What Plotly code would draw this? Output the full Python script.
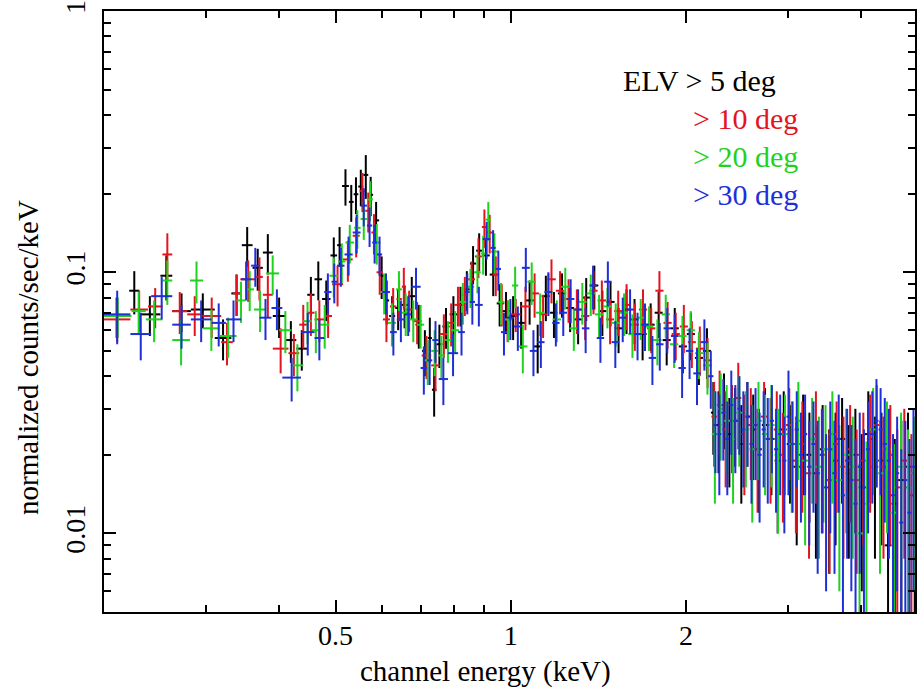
import numpy as np
import plotly.graph_objects as go

# ---------------- data (keV bin edges, normalized counts/sec/keV, 1-sigma errors) -------------
black_edges = [0.200, 0.221, 0.230, 0.250, 0.262, 0.282, 0.310, 0.331, 0.345, 0.360, 0.375, 0.390,
               0.410, 0.428, 0.447, 0.460, 0.474, 0.490, 0.503, 0.513, 0.527, 0.537, 0.547, 0.558,
               0.569, 0.580, 0.594, 0.606, 0.618, 0.633, 0.648, 0.666, 0.686, 0.704, 0.720, 0.732,
               0.745, 0.763, 0.785, 0.809, 0.830, 0.851, 0.872, 0.893, 0.920, 0.946, 0.968, 0.995,
               1.024, 1.060, 1.095, 1.130, 1.168, 1.205, 1.245, 1.285, 1.326, 1.370, 1.414, 1.460,
               1.508, 1.556, 1.606, 1.658, 1.712, 1.767, 1.824, 1.883, 1.944, 2.007, 2.072, 2.139,
               2.208, 2.25, 2.30, 2.35, 2.40, 2.46, 2.52, 2.58, 2.64, 2.70, 2.77, 2.84, 2.91, 2.98,
               3.06, 3.14, 3.22, 3.30, 3.39, 3.48, 3.57, 3.66, 3.76, 3.86, 3.96, 4.06, 4.17, 4.28,
               4.39, 4.51, 4.63, 4.75, 4.88, 5.01]
black_rate = [0.068, 0.085, 0.069, 0.097, 0.071, 0.072, 0.056, 0.083, 0.127, 0.104, 0.119, 0.068,
              0.055, 0.051, 0.082, 0.094, 0.079, 0.116, 0.127, 0.214, 0.186, 0.199, 0.213, 0.236,
              0.198, 0.158, 0.097, 0.078, 0.068, 0.073, 0.075, 0.081, 0.063, 0.050, 0.056, 0.0355,
              0.053, 0.062, 0.069, 0.075, 0.086, 0.108, 0.121, 0.116, 0.098, 0.076, 0.071, 0.068,
              0.064, 0.078, 0.052, 0.081, 0.070, 0.083, 0.073, 0.066, 0.080, 0.089, 0.071, 0.077,
              0.061, 0.072, 0.066, 0.058, 0.063, 0.070, 0.055, 0.061, 0.052, 0.058, 0.047, 0.050,
              0.029, 0.026, 0.031, 0.024, 0.027, 0.022, 0.028, 0.025, 0.021, 0.026, 0.023, 0.019,
              0.025, 0.022, 0.018, 0.024, 0.020, 0.017, 0.021, 0.016, 0.019, 0.023, 0.017, 0.020,
              0.015, 0.024, 0.018, 0.019, 0.009, 0.013, 0.016, 0.018, 0.014]
black_err = [0.012, 0.016, 0.012, 0.019, 0.012, 0.011, 0.010, 0.015, 0.022, 0.019, 0.021, 0.012,
             0.010, 0.009, 0.014, 0.016, 0.014, 0.020, 0.022, 0.034, 0.030, 0.032, 0.034, 0.045,
             0.034, 0.028, 0.018, 0.015, 0.013, 0.013, 0.014, 0.015, 0.012, 0.010, 0.011, 0.0075,
             0.010, 0.011, 0.012, 0.013, 0.015, 0.018, 0.020, 0.019, 0.017, 0.014, 0.013, 0.013,
             0.013, 0.015, 0.011, 0.016, 0.014, 0.016, 0.014, 0.013, 0.015, 0.017, 0.014, 0.015,
             0.012, 0.014, 0.013, 0.012, 0.013, 0.014, 0.011, 0.012, 0.011, 0.012, 0.010, 0.011,
             0.009, 0.009, 0.010, 0.009, 0.009, 0.009, 0.010, 0.009, 0.009, 0.010, 0.009, 0.009,
             0.010, 0.009, 0.009, 0.010, 0.009, 0.009, 0.010, 0.009, 0.010, 0.010, 0.009, 0.010,
             0.009, 0.011, 0.010, 0.010, 0.0085, 0.010, 0.011, 0.011, 0.011]

red_edges = [0.200, 0.222, 0.238, 0.252, 0.262, 0.278, 0.295, 0.318, 0.333, 0.343, 0.365, 0.375,
             0.390, 0.415, 0.433, 0.447, 0.460, 0.478, 0.493, 0.515, 0.535, 0.550, 0.562, 0.576,
             0.588, 0.603, 0.620, 0.636, 0.650, 0.660, 0.678, 0.703, 0.730, 0.755, 0.780, 0.800,
             0.823, 0.845, 0.868, 0.892, 0.910, 0.930, 0.955, 0.975, 1.000, 1.040,
             1.080, 1.118, 1.155, 1.195, 1.236, 1.278, 1.320, 1.365, 1.410, 1.458, 1.505, 1.555,
             1.608, 1.660, 1.715, 1.772, 1.830, 1.890, 1.952, 2.015, 2.080, 2.146, 2.212,
             2.26, 2.31, 2.37, 2.43, 2.49, 2.55, 2.62, 2.69, 2.76, 2.83, 2.90, 2.97, 3.05, 3.13,
             3.21, 3.30, 3.39, 3.48, 3.58, 3.68, 3.78, 3.88, 3.98, 4.09, 4.20, 4.31, 4.43, 4.55,
             4.68, 4.81, 4.95, 5.10]
red_rate = [0.066, 0.072, 0.074, 0.117, 0.071, 0.069, 0.068, 0.054, 0.083, 0.094, 0.096, 0.082,
            0.051, 0.049, 0.063, 0.070, 0.066, 0.068, 0.090, 0.112, 0.138, 0.205, 0.172, 0.142,
            0.100, 0.066, 0.074, 0.079, 0.088, 0.072, 0.065, 0.048, 0.044, 0.058, 0.064, 0.075,
            0.082, 0.094, 0.115, 0.149, 0.142, 0.098, 0.076, 0.066, 0.069,
            0.074, 0.083, 0.069, 0.094, 0.085, 0.079, 0.072, 0.068, 0.085, 0.078, 0.066, 0.071,
            0.075, 0.063, 0.072, 0.061, 0.085, 0.064, 0.058, 0.062, 0.054, 0.051, 0.046,
            0.028, 0.031, 0.025, 0.027, 0.033, 0.024, 0.026, 0.021, 0.028, 0.023, 0.025, 0.020,
            0.026, 0.019, 0.022, 0.017, 0.024, 0.020, 0.016, 0.022, 0.018, 0.021, 0.016, 0.019,
            0.023, 0.026, 0.018, 0.020, 0.015, 0.019, 0.014, 0.017]
red_err = [0.012, 0.013, 0.013, 0.024, 0.013, 0.012, 0.012, 0.010, 0.015, 0.017, 0.018, 0.015,
           0.010, 0.009, 0.012, 0.013, 0.012, 0.012, 0.016, 0.020, 0.024, 0.035, 0.030, 0.025,
           0.018, 0.012, 0.013, 0.014, 0.016, 0.013, 0.012, 0.009, 0.009, 0.011, 0.012, 0.013,
           0.014, 0.016, 0.020, 0.025, 0.024, 0.017, 0.014, 0.012, 0.010,
           0.014, 0.016, 0.013, 0.018, 0.016, 0.015, 0.014, 0.013, 0.016, 0.015, 0.013, 0.014,
           0.015, 0.013, 0.014, 0.012, 0.016, 0.013, 0.012, 0.013, 0.011, 0.011, 0.010,
           0.010, 0.011, 0.010, 0.010, 0.012, 0.010, 0.010, 0.009, 0.010, 0.010, 0.010, 0.009,
           0.010, 0.009, 0.010, 0.009, 0.011, 0.010, 0.009, 0.010, 0.010, 0.010, 0.009, 0.010,
           0.011, 0.011, 0.010, 0.011, 0.010, 0.011, 0.010, 0.011]

green_edges = [0.200, 0.223, 0.236, 0.252, 0.262, 0.281, 0.296, 0.316, 0.338, 0.350, 0.362, 0.380,
               0.400, 0.420, 0.440, 0.455, 0.470, 0.488, 0.505, 0.520, 0.538, 0.552, 0.566, 0.580,
               0.597, 0.615, 0.635, 0.650, 0.670, 0.690, 0.710, 0.730, 0.750, 0.770, 0.790, 0.815,
               0.840, 0.865, 0.888, 0.905, 0.925, 0.950, 0.975, 1.005, 1.030,
               1.068, 1.105, 1.142, 1.180, 1.220, 1.262, 1.305, 1.350, 1.395, 1.442, 1.490, 1.540,
               1.592, 1.645, 1.700, 1.757, 1.816, 1.877, 1.940, 2.005, 2.072, 2.141, 2.215,
               2.27, 2.32, 2.38, 2.44, 2.50, 2.57, 2.63, 2.70, 2.77, 2.84, 2.92, 3.00, 3.08, 3.16,
               3.25, 3.34, 3.43, 3.52, 3.62, 3.72, 3.82, 3.92, 4.03, 4.14, 4.25, 4.37, 4.49, 4.62,
               4.75, 4.88, 5.02]
green_rate = [0.068, 0.071, 0.066, 0.093, 0.055, 0.093, 0.061, 0.057, 0.078, 0.086, 0.072, 0.099,
              0.060, 0.044, 0.065, 0.060, 0.063, 0.097, 0.110, 0.130, 0.148, 0.160, 0.190, 0.130,
              0.084, 0.064, 0.086, 0.070, 0.066, 0.063, 0.046, 0.050, 0.048, 0.055, 0.060, 0.077,
              0.088, 0.100, 0.118, 0.159, 0.120, 0.077, 0.066, 0.089,
              0.052, 0.092, 0.070, 0.084, 0.066, 0.088, 0.061, 0.077, 0.083, 0.069, 0.074, 0.064,
              0.070, 0.058, 0.067, 0.062, 0.055, 0.069, 0.053, 0.057, 0.060, 0.049, 0.044,
              0.024, 0.030, 0.027, 0.023, 0.029, 0.025, 0.021, 0.027, 0.024, 0.026, 0.020, 0.024,
              0.022, 0.027, 0.019, 0.023, 0.018, 0.021, 0.024, 0.016, 0.020, 0.018, 0.010, 0.013,
              0.025, 0.017, 0.021, 0.012, 0.018, 0.015, 0.017]
green_err = [0.012, 0.013, 0.012, 0.018, 0.011, 0.017, 0.011, 0.010, 0.014, 0.015, 0.013, 0.017,
             0.011, 0.009, 0.012, 0.011, 0.012, 0.017, 0.019, 0.022, 0.025, 0.027, 0.033, 0.023,
             0.015, 0.012, 0.015, 0.013, 0.012, 0.012, 0.009, 0.010, 0.009, 0.010, 0.011, 0.014,
             0.015, 0.017, 0.020, 0.027, 0.021, 0.014, 0.012, 0.016,
             0.011, 0.017, 0.013, 0.015, 0.012, 0.016, 0.011, 0.014, 0.015, 0.013, 0.013, 0.012,
             0.013, 0.011, 0.012, 0.012, 0.011, 0.013, 0.010, 0.011, 0.011, 0.010, 0.010,
             0.011, 0.011, 0.010, 0.010, 0.011, 0.010, 0.010, 0.011, 0.010, 0.011, 0.010, 0.010,
             0.010, 0.011, 0.010, 0.010, 0.010, 0.010, 0.011, 0.010, 0.010, 0.010, 0.0085, 0.0095,
             0.011, 0.010, 0.011, 0.010, 0.011, 0.010, 0.011]

blue_edges = [0.200, 0.222, 0.241, 0.262, 0.282, 0.306, 0.324, 0.344, 0.358, 0.370, 0.388, 0.405,
              0.436, 0.460, 0.478, 0.492, 0.503, 0.518, 0.535, 0.552, 0.566, 0.578, 0.589, 0.601,
              0.620, 0.637, 0.658, 0.675, 0.700, 0.718, 0.733, 0.752, 0.780, 0.812, 0.834, 0.850,
              0.868, 0.895, 0.923, 0.942, 0.962, 0.985, 1.012,
              1.045, 1.078, 1.110, 1.143, 1.178, 1.213, 1.249, 1.286, 1.325, 1.365, 1.405, 1.447,
              1.490, 1.535, 1.580, 1.627, 1.676, 1.726, 1.777, 1.830, 1.885, 1.941, 1.999, 2.059,
              2.120, 2.183, 2.230,
              2.265, 2.300, 2.337, 2.374, 2.412, 2.451, 2.490, 2.530, 2.571, 2.613, 2.655, 2.698,
              2.742, 2.787, 2.833, 2.880, 2.928, 2.976, 3.025, 3.075, 3.126, 3.178, 3.231, 3.285,
              3.340, 3.396, 3.453, 3.511, 3.570, 3.630, 3.691, 3.753, 3.816, 3.880, 3.945, 4.011,
              4.078, 4.146, 4.215, 4.285, 4.356, 4.428, 4.501, 4.575, 4.650, 4.726, 4.803, 4.881,
              4.960, 5.040]
blue_rate = [0.069, 0.058, 0.081, 0.063, 0.066, 0.064, 0.066, 0.094, 0.106, 0.067, 0.073, 0.0395,
             0.059, 0.056, 0.084, 0.092, 0.106, 0.117, 0.142, 0.180, 0.151, 0.130, 0.117, 0.084,
             0.059, 0.066, 0.069, 0.088, 0.043, 0.046, 0.055, 0.039, 0.049, 0.059, 0.084, 0.077,
             0.075, 0.134, 0.124, 0.103, 0.059, 0.067,
             0.062, 0.104, 0.050, 0.054, 0.084, 0.064, 0.070, 0.079, 0.072, 0.061, 0.089, 0.056,
             0.092, 0.054, 0.067, 0.072, 0.058, 0.063, 0.047, 0.053, 0.061, 0.057, 0.043, 0.050,
             0.041, 0.054, 0.040,
             0.026, 0.024, 0.029, 0.023, 0.031, 0.027, 0.030, 0.025, 0.028, 0.022, 0.026, 0.020,
             0.025, 0.023, 0.027, 0.021, 0.024, 0.019, 0.028, 0.022, 0.025, 0.020, 0.024, 0.018,
             0.022, 0.017, 0.020, 0.015, 0.021, 0.017, 0.023, 0.014, 0.019, 0.016, 0.013, 0.018,
             0.015, 0.021, 0.024, 0.027, 0.025, 0.022, 0.019, 0.014, 0.017, 0.011, 0.016, 0.012,
             0.018, 0.015]
blue_err = [0.016, 0.012, 0.015, 0.012, 0.012, 0.012, 0.012, 0.016, 0.018, 0.012, 0.013, 0.0075,
            0.011, 0.010, 0.015, 0.016, 0.018, 0.020, 0.024, 0.030, 0.026, 0.022, 0.020, 0.015,
            0.011, 0.012, 0.012, 0.016, 0.009, 0.009, 0.010, 0.008, 0.009, 0.011, 0.015, 0.014,
            0.013, 0.022, 0.021, 0.018, 0.011, 0.012,
            0.012, 0.020, 0.010, 0.011, 0.016, 0.012, 0.013, 0.015, 0.014, 0.012, 0.017, 0.011,
            0.018, 0.011, 0.013, 0.014, 0.012, 0.013, 0.010, 0.011, 0.012, 0.012, 0.010, 0.011,
            0.010, 0.012, 0.010,
            0.009, 0.010, 0.010, 0.009, 0.011, 0.010, 0.010, 0.010, 0.010, 0.009, 0.010, 0.009,
            0.010, 0.010, 0.010, 0.009, 0.010, 0.009, 0.014, 0.010, 0.010, 0.009, 0.010, 0.009,
            0.010, 0.010, 0.010, 0.009, 0.011, 0.010, 0.011, 0.009, 0.011, 0.010, 0.010, 0.011,
            0.010, 0.011, 0.011, 0.012, 0.011, 0.011, 0.011, 0.010, 0.011, 0.010, 0.011, 0.011,
            0.012, 0.011]

series_names = ["ELV > 5 deg", "> 10 deg", "> 20 deg", "> 30 deg"]
series_colors = ["#000000", "#e3141e", "#1ed21e", "#1f2fd8"]

x_tick_vals = [0.5, 1, 2]
x_tick_text = ["0.5", "1", "2"]
x_minor_vals = [0.3, 0.4, 0.6, 0.7, 0.8, 0.9, 3, 4]
y_tick_vals = [0.01, 0.1, 1]
y_tick_text = ["0.01", "0.1", "1"]
y_minor_vals = [m * d for d in (0.001, 0.01, 0.1) for m in range(2, 10)]

FONT = "Liberation Serif, Times New Roman, serif"


def make_trace(edges, rate, err, color, name):
    lo = np.array(edges[:-1], dtype=float)
    hi = np.array(edges[1:], dtype=float)
    c = np.sqrt(lo * hi)
    r = np.array(rate, dtype=float)
    e = np.array(err, dtype=float)
    em = np.minimum(e, r - 0.001)
    return go.Scatter(
        x=c, y=r, mode="markers", name=name, showlegend=False, hoverinfo="skip",
        marker=dict(size=2, color=color),
        error_x=dict(type="data", symmetric=False, array=hi - c, arrayminus=c - lo,
                     width=0, thickness=2, color=color),
        error_y=dict(type="data", symmetric=False, array=e, arrayminus=em,
                     width=0, thickness=2, color=color),
    )


fig = go.Figure()
for edges, rate, err, color, name in [
    (black_edges, black_rate, black_err, series_colors[0], series_names[0]),
    (red_edges, red_rate, red_err, series_colors[1], series_names[1]),
    (green_edges, green_rate, green_err, series_colors[2], series_names[2]),
    (blue_edges, blue_rate, blue_err, series_colors[3], series_names[3]),
]:
    fig.add_trace(make_trace(edges, rate, err, color, name))

axis_common = dict(
    showline=True, linecolor="black", linewidth=2, mirror="allticks",
    ticks="inside", ticklen=12, tickwidth=2, tickcolor="black",
    showgrid=False, zeroline=False, ticklabeloverflow="allow",
    tickfont=dict(family=FONT, size=28, color="black"),
)

fig.update_xaxes(type="log", range=[np.log10(0.2), np.log10(4.95)],
                 tickmode="array", tickvals=x_tick_vals, ticktext=x_tick_text,
                 minor=dict(tickmode="array", tickvals=x_minor_vals, ticks="inside",
                            ticklen=7, tickwidth=2, tickcolor="black", showgrid=False),
                 ticklabelstandoff=-3, **axis_common)
fig.update_yaxes(type="log", range=[np.log10(0.005), 0.0006],
                 tickmode="array", tickvals=y_tick_vals, ticktext=y_tick_text, tickangle=-90,
                 minor=dict(tickmode="array", tickvals=y_minor_vals, ticks="inside",
                            ticklen=7, tickwidth=2, tickcolor="black", showgrid=False),
                 ticklabelstandoff=6, **axis_common)

annotations = [
    dict(text="channel energy (keV)", x=0.471, y=-0.099, xref="paper", yref="paper",
         xanchor="center", yanchor="middle", showarrow=False,
         font=dict(family=FONT, size=29, color="black")),
    dict(text="normalized counts/sec/keV", x=-0.0935, y=0.423, xref="paper", yref="paper",
         xanchor="center", yanchor="middle", textangle=-90, showarrow=False,
         font=dict(family=FONT, size=29, color="black")),
]
legend_pos = [(0.831, 0.884), (0.8585, 0.8215), (0.8585, 0.7587), (0.8585, 0.694)]
for (lx, ly), nm, col in zip(legend_pos, series_names, series_colors):
    annotations.append(dict(text=nm.replace(">", "&gt;"), x=lx, y=ly, xref="paper", yref="paper",
                            xanchor="right", yanchor="middle", showarrow=False,
                            font=dict(family=FONT, size=30, color=col)))

fig.update_layout(
    width=917, height=692,
    margin=dict(l=104, r=0, t=7, b=80),
    paper_bgcolor="white", plot_bgcolor="white",
    annotations=annotations,
)

fig.write_html(
    "out.html",
    config={"displayModeBar": False},
    post_script="document.body.style.margin='0px'; document.body.style.overflow='hidden';",
)
